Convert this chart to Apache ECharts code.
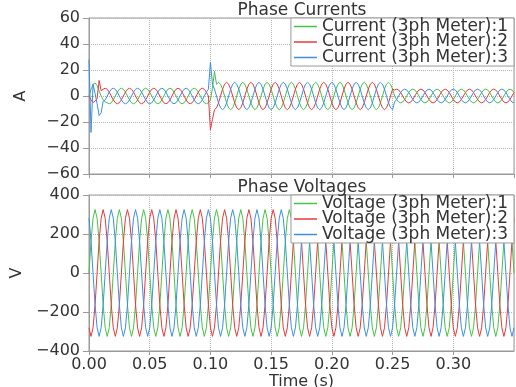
<!DOCTYPE html>
<html>
<head>
<meta charset="utf-8">
<title>Phase Currents / Phase Voltages</title>
<script src="https://cdn.jsdelivr.net/npm/echarts@6/dist/echarts.min.js"></script>
<style>
  html, body { margin: 0; padding: 0; background: #fff; }
  #chart { width: 516px; height: 387px; }
</style>
</head>
<body>
<div id="chart"></div>
<script>
// sample times (s), one row = 0.01 s
const time = [
  0,0.00167,0.00333,0.005,0.00667,0.00833,
  0.01,0.01167,0.01333,0.015,0.01667,0.01833,
  0.02,0.02167,0.02333,0.025,0.02667,0.02833,
  0.03,0.03167,0.03333,0.035,0.03667,0.03833,
  0.04,0.04167,0.04333,0.045,0.04667,0.04833,
  0.05,0.05167,0.05333,0.055,0.05667,0.05833,
  0.06,0.06167,0.06333,0.065,0.06667,0.06833,
  0.07,0.07167,0.07333,0.075,0.07667,0.07833,
  0.08,0.08167,0.08333,0.085,0.08667,0.08833,
  0.09,0.09167,0.09333,0.095,0.09667,0.09833,
  0.1,0.10167,0.10333,0.105,0.10667,0.10833,
  0.11,0.11167,0.11333,0.115,0.11667,0.11833,
  0.12,0.12167,0.12333,0.125,0.12667,0.12833,
  0.13,0.13167,0.13333,0.135,0.13667,0.13833,
  0.14,0.14167,0.14333,0.145,0.14667,0.14833,
  0.15,0.15167,0.15333,0.155,0.15667,0.15833,
  0.16,0.16167,0.16333,0.165,0.16667,0.16833,
  0.17,0.17167,0.17333,0.175,0.17667,0.17833,
  0.18,0.18167,0.18333,0.185,0.18667,0.18833,
  0.19,0.19167,0.19333,0.195,0.19667,0.19833,
  0.2,0.20167,0.20333,0.205,0.20667,0.20833,
  0.21,0.21167,0.21333,0.215,0.21667,0.21833,
  0.22,0.22167,0.22333,0.225,0.22667,0.22833,
  0.23,0.23167,0.23333,0.235,0.23667,0.23833,
  0.24,0.24167,0.24333,0.245,0.24667,0.24833,
  0.25,0.25167,0.25333,0.255,0.25667,0.25833,
  0.26,0.26167,0.26333,0.265,0.26667,0.26833,
  0.27,0.27167,0.27333,0.275,0.27667,0.27833,
  0.28,0.28167,0.28333,0.285,0.28667,0.28833,
  0.29,0.29167,0.29333,0.295,0.29667,0.29833,
  0.3,0.30167,0.30333,0.305,0.30667,0.30833,
  0.31,0.31167,0.31333,0.315,0.31667,0.31833,
  0.32,0.32167,0.32333,0.325,0.32667,0.32833,
  0.33,0.33167,0.33333,0.335,0.33667,0.33833,
  0.34,0.34167,0.34333,0.345,0.34667,0.34833,
  0.35
];

// currents (A), one row = one 50 Hz cycle
const current1 = [
  0,5,9,10,8,4,0,-3,-4.5,-5.2,-6,-5.2,
  -3,0,3,5.2,6,5.2,3,0,-3,-5.2,-6,-5.2,
  -3,0,3,5.2,6,5.2,3,0,-3,-5.2,-6,-5.2,
  -3,0,3,5.2,6,5.2,3,0,-3,-5.2,-6,-5.2,
  -3,0,3,5.2,6,5.2,3,0,-3,-5.2,-6,-5.2,
  -3,6,19,9,10.5,9.1,5.3,0,-5.3,-9.1,-10.5,-9.1,
  -5.3,0,5.3,9.1,10.5,9.1,5.3,0,-5.3,-9.1,-10.5,-9.1,
  -5.3,0,5.3,9.1,10.5,9.1,5.3,0,-5.3,-9.1,-10.5,-9.1,
  -5.3,0,5.3,9.1,10.5,9.1,5.3,0,-5.3,-9.1,-10.5,-9.1,
  -5.3,0,5.3,9.1,10.5,9.1,5.3,0,-5.3,-9.1,-10.5,-9.1,
  -5.3,0,5.3,9.1,10.5,9.1,5.3,0,-5.3,-9.1,-10.5,-9.1,
  -5.3,0,5.3,9.1,10.5,9.1,5.3,0,-5.3,-9.1,-10.5,-9.1,
  -5.3,0,5.3,9.1,10.5,9.1,5.3,0,-2.7,-4.6,-5.3,-4.6,
  -2.7,0,2.7,4.6,5.3,4.6,2.7,0,-2.7,-4.6,-5.3,-4.6,
  -2.7,0,2.7,4.6,5.3,4.6,2.7,0,-2.7,-4.6,-5.3,-4.6,
  -2.7,0,2.7,4.6,5.3,4.6,2.7,0,-2.7,-4.6,-5.3,-4.6,
  -2.7,0,2.7,4.6,5.3,4.6,2.7,0,-2.7,-4.6,-5.3,-4.6,
  -2.7,0,2.7,4.6,5.3,4.6,2.7
];
const current2 = [
  0,-3,-5,-4,-2,12,4,5.2,6,5.2,3,0,
  -3,-5.2,-6,-5.2,-3,0,3,5.2,6,5.2,3,0,
  -3,-5.2,-6,-5.2,-3,0,3,5.2,6,5.2,3,0,
  -3,-5.2,-6,-5.2,-3,0,3,5.2,6,5.2,3,0,
  -3,-5.2,-6,-5.2,-3,0,3,5.2,6,5.2,3,0,
  -26,-18,-10.5,-9.1,-5.3,0,5.3,9.1,10.5,9.1,5.3,0,
  -5.3,-9.1,-10.5,-9.1,-5.3,0,5.3,9.1,10.5,9.1,5.3,0,
  -5.3,-9.1,-10.5,-9.1,-5.3,0,5.3,9.1,10.5,9.1,5.3,0,
  -5.3,-9.1,-10.5,-9.1,-5.3,0,5.3,9.1,10.5,9.1,5.3,0,
  -5.3,-9.1,-10.5,-9.1,-5.3,0,5.3,9.1,10.5,9.1,5.3,0,
  -5.3,-9.1,-10.5,-9.1,-5.3,0,5.3,9.1,10.5,9.1,5.3,0,
  -5.3,-9.1,-10.5,-9.1,-5.3,0,5.3,9.1,10.5,9.1,5.3,0,
  -5.3,-9.1,-10.5,-9.1,-5.3,0,5.3,4.6,5.3,4.6,2.7,0,
  -2.7,-4.6,-5.3,-4.6,-2.7,0,2.7,4.6,5.3,4.6,2.7,0,
  -2.7,-4.6,-5.3,-4.6,-2.7,0,2.7,4.6,5.3,4.6,2.7,0,
  -2.7,-4.6,-5.3,-4.6,-2.7,0,2.7,4.6,5.3,4.6,2.7,0,
  -2.7,-4.6,-5.3,-4.6,-2.7,0,2.7,4.6,5.3,4.6,2.7,0,
  -2.7,-4.6,-5.3,-4.6,-2.7,0,2.7
];
const current3 = [
  28,-28,9,2,-6,-15,-13,-4,-3,0,3,5.2,
  6,5.2,3,0,-3,-5.2,-6,-5.2,-3,0,3,5.2,
  6,5.2,3,0,-3,-5.2,-6,-5.2,-3,0,3,5.2,
  6,5.2,3,0,-3,-5.2,-6,-5.2,-3,0,3,5.2,
  6,5.2,3,0,-3,-5.2,-6,-5.2,-3,0,3,5.2,
  26,9,5.3,0,-5.3,-9.1,-10.5,-9.1,-5.3,0,5.3,9.1,
  10.5,9.1,5.3,0,-5.3,-9.1,-10.5,-9.1,-5.3,0,5.3,9.1,
  10.5,9.1,5.3,0,-5.3,-9.1,-10.5,-9.1,-5.3,0,5.3,9.1,
  10.5,9.1,5.3,0,-5.3,-9.1,-10.5,-9.1,-5.3,0,5.3,9.1,
  10.5,9.1,5.3,0,-5.3,-9.1,-10.5,-9.1,-5.3,0,5.3,9.1,
  10.5,9.1,5.3,0,-5.3,-9.1,-10.5,-9.1,-5.3,0,5.3,9.1,
  10.5,9.1,5.3,0,-5.3,-9.1,-10.5,-9.1,-5.3,0,5.3,9.1,
  10.5,9.1,5.3,0,-5.3,-9.1,-10.5,-4.6,-2.7,0,2.7,4.6,
  5.3,4.6,2.7,0,-2.7,-4.6,-5.3,-4.6,-2.7,0,2.7,4.6,
  5.3,4.6,2.7,0,-2.7,-4.6,-5.3,-4.6,-2.7,0,2.7,4.6,
  5.3,4.6,2.7,0,-2.7,-4.6,-5.3,-4.6,-2.7,0,2.7,4.6,
  5.3,4.6,2.7,0,-2.7,-4.6,-5.3,-4.6,-2.7,0,2.7,4.6,
  5.3,4.6,2.7,0,-2.7,-4.6,-5.3
];

// voltages (V)
const voltage1 = [
  0,163,281,325,281,163,0,-163,-281,-325,-281,-163,
  0,163,281,325,281,163,0,-163,-281,-325,-281,-163,
  0,163,281,325,281,163,0,-163,-281,-325,-281,-163,
  0,163,281,325,281,163,0,-163,-281,-325,-281,-163,
  0,163,281,325,281,163,0,-163,-281,-325,-281,-163,
  0,163,281,325,281,163,0,-163,-281,-325,-281,-163,
  0,163,281,325,281,163,0,-163,-281,-325,-281,-163,
  0,163,281,325,281,163,0,-163,-281,-325,-281,-163,
  0,163,281,325,281,163,0,-163,-281,-325,-281,-163,
  0,163,281,325,281,163,0,-163,-281,-325,-281,-163,
  0,163,281,325,281,163,0,-163,-281,-325,-281,-163,
  0,163,281,325,281,163,0,-163,-281,-325,-281,-163,
  0,163,281,325,281,163,0,-163,-281,-325,-281,-163,
  0,163,281,325,281,163,0,-163,-281,-325,-281,-163,
  0,163,281,325,281,163,0,-163,-281,-325,-281,-163,
  0,163,281,325,281,163,0,-163,-281,-325,-281,-163,
  0,163,281,325,281,163,0,-163,-281,-325,-281,-163,
  0,163,281,325,281,163,0
];
const voltage2 = [
  -281,-325,-281,-163,0,163,281,325,281,163,0,-163,
  -281,-325,-281,-163,0,163,281,325,281,163,0,-163,
  -281,-325,-281,-163,0,163,281,325,281,163,0,-163,
  -281,-325,-281,-163,0,163,281,325,281,163,0,-163,
  -281,-325,-281,-163,0,163,281,325,281,163,0,-163,
  -281,-325,-281,-163,0,163,281,325,281,163,0,-163,
  -281,-325,-281,-163,0,163,281,325,281,163,0,-163,
  -281,-325,-281,-163,0,163,281,325,281,163,0,-163,
  -281,-325,-281,-163,0,163,281,325,281,163,0,-163,
  -281,-325,-281,-163,0,163,281,325,281,163,0,-163,
  -281,-325,-281,-163,0,163,281,325,281,163,0,-163,
  -281,-325,-281,-163,0,163,281,325,281,163,0,-163,
  -281,-325,-281,-163,0,163,281,325,281,163,0,-163,
  -281,-325,-281,-163,0,163,281,325,281,163,0,-163,
  -281,-325,-281,-163,0,163,281,325,281,163,0,-163,
  -281,-325,-281,-163,0,163,281,325,281,163,0,-163,
  -281,-325,-281,-163,0,163,281,325,281,163,0,-163,
  -281,-325,-281,-163,0,163,281
];
const voltage3 = [
  281,163,0,-163,-281,-325,-281,-163,0,163,281,325,
  281,163,0,-163,-281,-325,-281,-163,0,163,281,325,
  281,163,0,-163,-281,-325,-281,-163,0,163,281,325,
  281,163,0,-163,-281,-325,-281,-163,0,163,281,325,
  281,163,0,-163,-281,-325,-281,-163,0,163,281,325,
  281,163,0,-163,-281,-325,-281,-163,0,163,281,325,
  281,163,0,-163,-281,-325,-281,-163,0,163,281,325,
  281,163,0,-163,-281,-325,-281,-163,0,163,281,325,
  281,163,0,-163,-281,-325,-281,-163,0,163,281,325,
  281,163,0,-163,-281,-325,-281,-163,0,163,281,325,
  281,163,0,-163,-281,-325,-281,-163,0,163,281,325,
  281,163,0,-163,-281,-325,-281,-163,0,163,281,325,
  281,163,0,-163,-281,-325,-281,-163,0,163,281,325,
  281,163,0,-163,-281,-325,-281,-163,0,163,281,325,
  281,163,0,-163,-281,-325,-281,-163,0,163,281,325,
  281,163,0,-163,-281,-325,-281,-163,0,163,281,325,
  281,163,0,-163,-281,-325,-281,-163,0,163,281,325,
  281,163,0,-163,-281,-325,-281
];

const currentNames = ['Current (3ph Meter):1', 'Current (3ph Meter):2', 'Current (3ph Meter):3'];
const voltageNames = ['Voltage (3ph Meter):1', 'Voltage (3ph Meter):2', 'Voltage (3ph Meter):3'];
const colors = ['#44c444', '#e8393c', '#3b8fe8'];

const gray = '#9a9a9a';
const font = 'DejaVu Sans';

function pairs(values) {
  return time.map((t, k) => [t, values[k]]);
}
function minusLabel(v) {
  return v < 0 ? '\u2212' + Math.abs(v) : String(v);
}

function xAxisFor(gridIndex, withLabels) {
  return {
    type: 'value', gridIndex: gridIndex,
    min: 0, max: 0.35, interval: 0.05,
    axisLine: { onZero: false, lineStyle: { color: gray } },
    axisTick: { show: true, length: 4, lineStyle: { color: gray } },
    axisLabel: {
      show: withLabels, fontFamily: font, fontSize: 16, color: '#333', margin: 6,
      showMaxLabel: false,
      formatter: v => v.toFixed(2)
    },
    splitLine: { show: true, lineStyle: { type: 'dotted', color: '#b4b4b4' } },
    name: withLabels ? 'Time (s)' : '',
    nameLocation: 'middle', nameGap: 17,
    nameTextStyle: { fontFamily: font, fontSize: 16, color: '#333' }
  };
}
function yAxisFor(gridIndex, min, max, interval, name) {
  return {
    type: 'value', gridIndex: gridIndex,
    min: min, max: max, interval: interval,
    axisLine: { onZero: false, lineStyle: { color: gray } },
    axisTick: { show: true, length: 6, lineStyle: { color: gray } },
    axisLabel: { fontFamily: font, fontSize: 16, color: '#333', margin: 9, formatter: minusLabel },
    splitLine: { show: true, lineStyle: { type: 'dotted', color: '#b4b4b4' } },
    name: name, nameLocation: 'middle', nameGap: 60, nameRotate: 90,
    nameTextStyle: { fontFamily: font, fontSize: 16, color: '#333' }
  };
}
function legendFor(names, top) {
  return {
    data: names, orient: 'vertical', right: 2, top: top,
    icon: 'rect', itemWidth: 23, itemHeight: 1.5, itemGap: -1.5,
    padding: [0, 6, 0, 3],
    borderColor: gray, borderWidth: 1, backgroundColor: '#fff',
    textStyle: { fontFamily: font, fontSize: 17, color: '#333' }
  };
}
function lineSeries(name, values, idx, axisIndex) {
  return {
    name: name, type: 'line', data: pairs(values),
    xAxisIndex: axisIndex, yAxisIndex: axisIndex,
    symbol: 'none', showSymbol: false,
    color: colors[idx],
    lineStyle: { width: 1, color: colors[idx] }
  };
}

const chart = echarts.init(document.getElementById('chart'), null, { renderer: 'canvas' });
chart.setOption({
  animation: false,
  backgroundColor: '#fff',
  textStyle: { fontFamily: font },
  title: [
    { text: 'Phase Currents', left: 302, top: 2, textAlign: 'center', padding: 0,
      textStyle: { fontFamily: font, fontSize: 17, fontWeight: 'normal', color: '#333' } },
    { text: 'Phase Voltages', left: 302, top: 179, textAlign: 'center', padding: 0,
      textStyle: { fontFamily: font, fontSize: 17, fontWeight: 'normal', color: '#333' } }
  ],
  legend: [legendFor(currentNames, 18), legendFor(voltageNames, 195)],
  grid: [
    { left: 89, right: 2, top: 18, height: 156, show: true, borderColor: gray, borderWidth: 1,
      outerBoundsMode: 'none' },
    { left: 89, right: 2, top: 195, height: 156, show: true, borderColor: gray, borderWidth: 1,
      outerBoundsMode: 'none' }
  ],
  xAxis: [xAxisFor(0, false), xAxisFor(1, true)],
  yAxis: [yAxisFor(0, -60, 60, 20, 'A'), yAxisFor(1, -400, 400, 200, 'V')],
  series: [
    lineSeries(currentNames[0], current1, 0, 0),
    lineSeries(currentNames[1], current2, 1, 0),
    lineSeries(currentNames[2], current3, 2, 0),
    lineSeries(voltageNames[0], voltage1, 0, 1),
    lineSeries(voltageNames[1], voltage2, 1, 1),
    lineSeries(voltageNames[2], voltage3, 2, 1)
  ]
});

window.addEventListener('resize', () => {
  chart.resize();
});
</script>
</body>
</html>
